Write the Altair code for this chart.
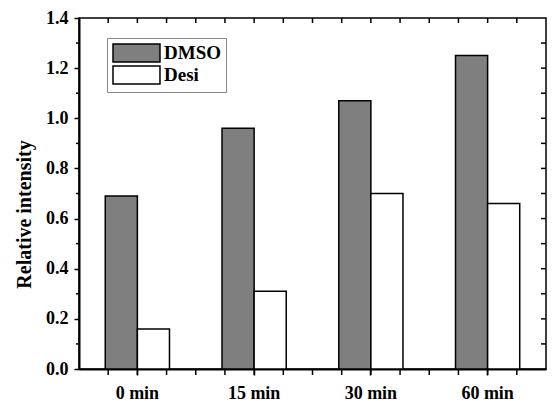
import altair as alt
import pandas as pd

categories = ["0 min", "15 min", "30 min", "60 min"]
series = ["DMSO", "Desi"]
dmso = [0.69, 0.96, 1.07, 1.25]
desi = [0.16, 0.31, 0.70, 0.66]
colors = ["#7f7f7f", "#ffffff"]
y_major = [0.0, 0.2, 0.4, 0.6, 0.8, 1.0, 1.2, 1.4]
y_minor = [0.1, 0.3, 0.5, 0.7, 0.9, 1.1, 1.3]
y_right = [0.1, 0.2, 0.3, 0.4, 0.5, 0.6, 0.7, 0.8, 0.9, 1.0, 1.1, 1.2, 1.3]
x_quarters = list(range(1, 16))

df = pd.DataFrame({
    "time": categories * 2,
    "series": [series[0]] * 4 + [series[1]] * 4,
    "value": dmso + desi,
})
qdf = pd.DataFrame({"k": x_quarters})
minor_df = pd.DataFrame({"value": y_minor})
right_df = pd.DataFrame({"value": y_right})

W, H = 467, 351
FONT = "Liberation Serif"
yscale = alt.Scale(domain=[0, 1.4], nice=False, zero=False)
yaxis = alt.Axis(values=y_major, format=".1f", title="Relative intensity",
                 labelFont=FONT, labelFontWeight="bold", labelFontSize=18, labelColor="black",
                 tickSize=5, tickWidth=1.5, tickColor="black", domainColor="black",
                 domainWidth=2, labelPadding=6,
                 titleFont=FONT, titleFontWeight="bold", titleFontSize=20, titleColor="black",
                 titleAngle=270, titleX=-49, titleY=196, titleAlign="center",
                 titleBaseline="alphabetic")

bars = alt.Chart(df).mark_bar(stroke="black", strokeWidth=1.5).encode(
    x=alt.X("time:N", sort=categories,
            scale=alt.Scale(paddingInner=0.45, paddingOuter=0.225),
            axis=alt.Axis(title=None, labelAngle=0, labelFont=FONT, labelFontWeight="bold",
                          labelFontSize=18, labelColor="black", tickSize=6, tickWidth=1.5,
                          tickColor="black", domainColor="black", domainWidth=2, labelPadding=9)),
    xOffset=alt.XOffset("series:N", sort=series, scale=alt.Scale(paddingInner=0, paddingOuter=0)),
    y=alt.Y("value:Q", scale=yscale, axis=yaxis),
    color=alt.Color("series:N", sort=series,
                    scale=alt.Scale(domain=series, range=colors),
                    legend=alt.Legend(title=None, orient="none", legendX=28, legendY=20,
                                      symbolType="M-1,-1L4.22,-1L4.22,1L-1,1Z",
                                      symbolSize=324, symbolStrokeColor="black",
                                      symbolStrokeWidth=1.5, labelFont=FONT,
                                      labelFontWeight="bold", labelFontSize=19, labelColor="black",
                                      strokeColor="#888888", fillColor="white", padding=5,
                                      rowPadding=-5, labelOffset=32)),
)

xq = alt.X("k:Q", scale=alt.Scale(domain=[0, 16], nice=False, zero=False), axis=None)
top_ticks = alt.Chart(qdf).mark_rule(color="black", strokeWidth=1.5).encode(
    x=xq, y=alt.value(0), y2=alt.value(5))
bottom_ticks = alt.Chart(qdf).mark_rule(color="black", strokeWidth=1.5).encode(
    x=xq, y=alt.value(H), y2=alt.value(H + 6))
left_minor = alt.Chart(minor_df).mark_rule(color="black", strokeWidth=1.5).encode(
    y=alt.Y("value:Q", scale=yscale, axis=yaxis), x=alt.value(-3), x2=alt.value(0))
right_ticks = alt.Chart(right_df).mark_rule(color="black", strokeWidth=1.5).encode(
    y=alt.Y("value:Q", scale=yscale, axis=yaxis), x=alt.value(W - 5), x2=alt.value(W))

chart = alt.layer(bars, top_ticks, bottom_ticks, left_minor, right_ticks).resolve_scale(
    x="independent"
).properties(
    width=W, height=H,
    autosize=alt.AutoSizeParams(type="none"),
    padding={"left": 71, "top": 10, "right": 1, "bottom": 33},
).configure_axis(grid=False).configure_view(stroke="black", strokeWidth=1.5)

chart.save("out.html", embed_options={"renderer": "svg", "actions": False})
